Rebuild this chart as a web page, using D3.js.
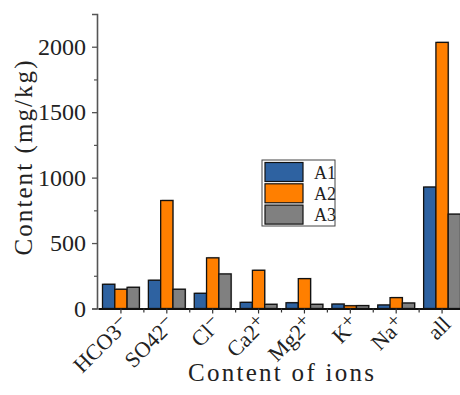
<!DOCTYPE html>
<html>
<head>
<meta charset="utf-8">
<script src="https://cdn.jsdelivr.net/npm/d3@7"></script>
<style>
  body { margin: 0; background: #fff; }
  svg { display: block; }
</style>
</head>
<body>
<script>
// ions on the x axis, label = base text + raised charge sign
const categories = ['HCO3', 'SO42', 'Cl', 'Ca2', 'Mg2', 'K', 'Na', 'all'];
const charges = ['−', '−', '−', '+', '+', '+', '+', ''];
const series = ['A1', 'A2', 'A3'];
const a1 = [185, 216, 116, 47, 44, 34, 27, 928];
const a2 = [147, 825, 387, 292, 228, 21, 83, 2033];
const a3 = [162, 147, 264, 32, 32, 22, 42, 721];
const yTicks = [0, 500, 1000, 1500, 2000];

const colors = ['#2e62a1', '#ff7f00', '#808080'];
const font = "'Liberation Serif'";
const values = [a1, a2, a3];

const W = 460, H = 395;
const svg = d3.select('body').append('svg')
  .attr('width', W)
  .attr('height', H);

const x = d3.scaleBand().domain(categories).range([98, 465]);
const y = d3.scaleLinear().domain([0, 2250]).range([308.5, 14]);
const inner = d3.scaleBand().domain(series).range([4.5, x.bandwidth() - 4.5]);

// bars
categories.forEach((c, i) => {
  series.forEach((s, j) => {
    svg.append('rect')
      .attr('x', x(c) + inner(s) + 1)
      .attr('y', y(values[j][i]) - 1)
      .attr('width', inner.bandwidth())
      .attr('height', y(0) - y(values[j][i]))
      .attr('fill', '#c8c8c8');
    svg.append('rect')
      .attr('x', x(c) + inner(s))
      .attr('y', y(values[j][i]))
      .attr('width', inner.bandwidth())
      .attr('height', y(0) - y(values[j][i]))
      .attr('fill', colors[j])
      .attr('stroke', '#111')
      .attr('stroke-width', 1.3);
  });
});

// y axis
const yAxis = svg.append('g')
  .attr('transform', 'translate(97,0)')
  .call(d3.axisLeft(y).tickValues(yTicks).tickSize(5).tickPadding(6).tickFormat(d3.format('d')));
yAxis.select('.domain').attr('stroke', '#555').attr('stroke-width', 1.6);
yAxis.selectAll('.tick line').attr('stroke', '#555').attr('stroke-width', 1.3);
yAxis.selectAll('text')
  .style('font-family', font)
  .style('font-size', '24px')
  .attr('fill', '#222');
svg.append('g')
  .attr('transform', 'translate(97,0)')
  .call(d3.axisLeft(y).tickValues([250, 750, 1250, 1750]).tickSize(3).tickFormat(''))
  .call(g => g.select('.domain').remove())
  .selectAll('line').attr('stroke', '#555').attr('stroke-width', 1.2);

// x axis
const xAxis = svg.append('g')
  .attr('transform', `translate(0,${y(0)})`)
  .call(d3.axisBottom(x).tickSize(5).tickSizeOuter(0).tickFormat(''));
xAxis.select('.domain').attr('stroke', '#111').attr('stroke-width', 2);
xAxis.selectAll('.tick line').attr('stroke', '#333').attr('stroke-width', 1.2);
svg.append('g')
  .selectAll('line')
  .data(categories.slice(1))
  .join('line')
  .attr('x1', d => x(d))
  .attr('x2', d => x(d))
  .attr('y1', y(0))
  .attr('y2', y(0) + 4)
  .attr('stroke', '#333')
  .attr('stroke-width', 1.2);

// rotated category labels
const lab = svg.append('g')
  .selectAll('text')
  .data(categories)
  .join('text')
  .attr('transform', d => `translate(${x(d) + x.bandwidth() / 2 + 10},${y(0) + 17}) rotate(-45)`)
  .attr('text-anchor', 'end')
  .style('font-family', font)
  .style('font-size', '22px')
  .attr('fill', '#222');
lab.append('tspan').text(d => d);
lab.append('tspan')
  .attr('dy', -6)
  .style('font-size', '20px')
  .text((d, i) => charges[i]);

// axis titles
svg.append('text')
  .attr('x', 281)
  .attr('y', 381)
  .attr('text-anchor', 'middle')
  .style('font-family', font)
  .style('font-size', '25px')
  .attr('textLength', 186)
  .attr('lengthAdjust', 'spacing')
  .attr('fill', '#222')
  .text('Content of ions');

svg.append('text')
  .attr('transform', 'translate(32,158) rotate(-90)')
  .attr('text-anchor', 'middle')
  .style('font-family', font)
  .style('font-size', '25px')
  .attr('textLength', 195)
  .attr('lengthAdjust', 'spacing')
  .attr('fill', '#222')
  .text('Content (mg/kg)');

// legend
const leg = svg.append('g').attr('transform', 'translate(262,160)');
leg.append('rect')
  .attr('width', 73)
  .attr('height', 66)
  .attr('fill', '#fff')
  .attr('stroke', '#444')
  .attr('stroke-width', 1);
const item = leg.selectAll('g')
  .data(series)
  .join('g')
  .attr('transform', (d, i) => `translate(3,${2.5 + i * 21.3})`);
item.append('rect')
  .attr('width', 38)
  .attr('height', 19)
  .attr('fill', (d, i) => colors[i])
  .attr('stroke', '#111')
  .attr('stroke-width', 1.2);
item.append('text')
  .attr('x', 49)
  .attr('y', 16)
  .style('font-family', font)
  .style('font-size', '18px')
  .attr('fill', '#222')
  .text(d => d);
</script>
</body>
</html>
